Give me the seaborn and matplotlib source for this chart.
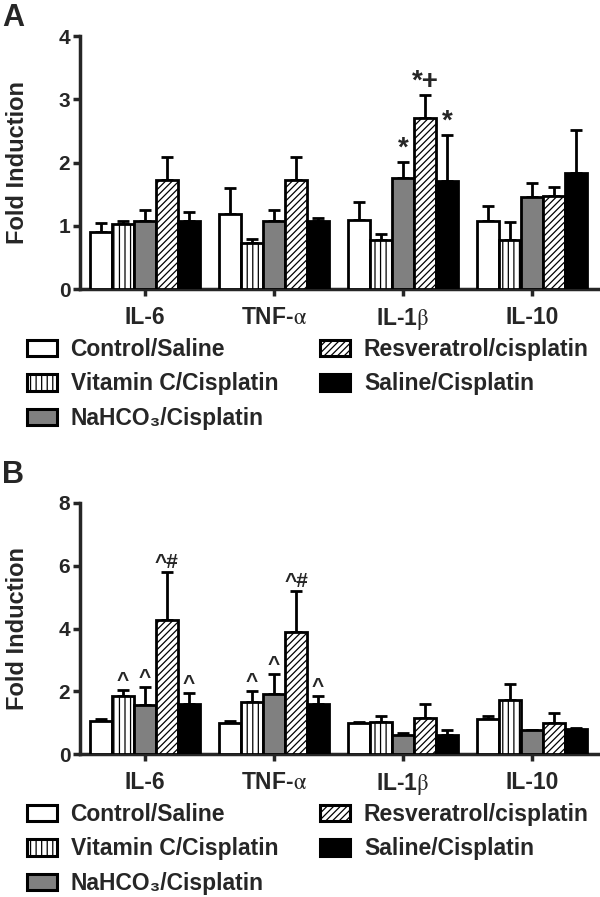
import numpy as np
import pandas as pd
import matplotlib
matplotlib.use("Agg")
import matplotlib.pyplot as plt
import seaborn as sns
from matplotlib.patches import Patch

# ── data ─────────────────────────────────────────────────────
cytokines = ["IL-6", "TNF-$\\mathrm{\\alpha}$", "IL-1$\\mathrm{\\beta}$", "IL-10"]
groups = ["Control/Saline", "Vitamin C/Cisplatin", "NaHCO\u2083/Cisplatin",
          "Resveratrol/cisplatin", "Saline/Cisplatin"]

# panel A: mean fold induction (per group, over cytokines) and SEM
a_control = [0.90, 1.18, 1.09, 1.07]
a_vitc = [1.03, 0.72, 0.78, 0.77]
a_nahco3 = [1.07, 1.07, 1.75, 1.46]
a_resv = [1.72, 1.72, 2.71, 1.47]
a_saline = [1.08, 1.08, 1.71, 1.84]

a_control_err = [0.15, 0.41, 0.29, 0.25]
a_vitc_err = [0.05, 0.07, 0.09, 0.29]
a_nahco3_err = [0.18, 0.18, 0.26, 0.21]
a_resv_err = [0.36, 0.36, 0.36, 0.14]
a_saline_err = [0.14, 0.05, 0.73, 0.67]

# panel B
b_control = [1.05, 1.00, 1.00, 1.10]
b_vitc = [1.85, 1.65, 1.02, 1.72]
b_nahco3 = [1.55, 1.90, 0.62, 0.75]
b_resv = [4.28, 3.88, 1.15, 1.00]
b_saline = [1.60, 1.58, 0.62, 0.80]

b_control_err = [0.08, 0.04, 0.03, 0.12]
b_vitc_err = [0.20, 0.37, 0.18, 0.52]
b_nahco3_err = [0.60, 0.65, 0.06, 0.02]
b_resv_err = [1.52, 1.32, 0.44, 0.30]
b_saline_err = [0.33, 0.27, 0.13, 0.03]

# significance marks: (cytokine index, group index, text)
a_marks = [(2, 2, "*"), (2, 3, "*+"), (2, 4, "*")]
b_marks = [(0, 1, "^"), (0, 2, "^"), (0, 3, "^#"), (0, 4, "^"),
           (1, 1, "^"), (1, 2, "^"), (1, 3, "^#"), (1, 4, "^")]

# ── style ────────────────────────────────────────────────────
sns.set_style("ticks")
plt.rcParams["font.family"] = ["Liberation Sans", "DejaVu Sans"]
plt.rcParams["mathtext.fontset"] = "stix"
plt.rcParams["hatch.linewidth"] = 0.9

colors = ["white", "white", "#808080", "white", "black"]
hatches = ["", "|||", "", "/////", ""]
LW = 2.0


def draw_panel(ax, means, errs, ymax, marks, mark_size):
    df = pd.DataFrame({
        "cytokine": np.tile(cytokines, len(groups)),
        "group": np.repeat(groups, len(cytokines)),
        "value": np.concatenate(means),
    })
    sns.barplot(data=df, x="cytokine", y="value", hue="group",
                order=cytokines, hue_order=groups, palette=colors,
                saturation=1, width=0.85, edgecolor="black", linewidth=LW,
                errorbar=None, legend=False, ax=ax, zorder=3)

    for cont, hatch, err in zip(ax.containers, hatches, errs):
        xs, hs = [], []
        for bar in cont:
            bar.set_hatch(hatch)
            xs.append(bar.get_x() + bar.get_width() / 2)
            hs.append(bar.get_height())
        ax.errorbar(xs, hs, yerr=[np.zeros(len(err)), err], fmt="none",
                    ecolor="black", elinewidth=2, capsize=4.5, capthick=2,
                    zorder=2)

    # significance symbols above the error bars
    for ci, gi, txt in marks:
        bar = ax.containers[gi][ci]
        top = bar.get_height() + errs[gi][ci]
        ax.annotate(txt, (bar.get_x() + bar.get_width() / 2, top),
                    xytext=(0, 0), textcoords="offset points",
                    ha="center", va="bottom", fontsize=mark_size,
                    fontweight="bold")

    ax.set_xlim(-0.504, 3.51)
    ax.set_ylim(0, ymax)
    ax.set_xlabel("")
    ax.set_ylabel("Fold Induction", fontsize=17, fontweight="bold")
    ax.yaxis.set_label_coords(-0.098, 0.5)
    sns.despine(ax=ax)
    for s in ["left", "bottom"]:
        ax.spines[s].set_linewidth(2.5)
    ax.tick_params(width=2.5, length=5, labelsize=15, pad=2)
    ax.tick_params(axis="x", pad=7)
    for lab in ax.get_xticklabels() + ax.get_yticklabels():
        lab.set_fontweight("bold")
    for lab in ax.get_xticklabels():
        lab.set_fontsize(16.5)


fig = plt.figure(figsize=(6, 8.97), dpi=100)
ax_a = fig.add_axes([80 / 600, 1 - 289 / 897, 518 / 600, 253 / 897])
ax_b = fig.add_axes([80 / 600, 1 - 754 / 897, 518 / 600, 251 / 897])

draw_panel(ax_a,
           [a_control, a_vitc, a_nahco3, a_resv, a_saline],
           [a_control_err, a_vitc_err, a_nahco3_err, a_resv_err, a_saline_err],
           4, a_marks, 20)
ax_a.set_yticks([0, 1, 2, 3, 4])

draw_panel(ax_b,
           [b_control, b_vitc, b_nahco3, b_resv, b_saline],
           [b_control_err, b_vitc_err, b_nahco3_err, b_resv_err, b_saline_err],
           8, b_marks, 15)
ax_b.set_yticks([0, 2, 4, 6, 8])

handles = [Patch(facecolor=c, edgecolor="black", hatch=h, linewidth=2.2)
           for c, h in zip(colors, hatches)]
for top in [338, 803]:
    fig.legend(handles, groups, loc="upper left",
               bbox_to_anchor=(27 / 600, 1 - top / 897), ncol=2,
               frameon=False, prop={"weight": "bold", "size": 16.5},
               handlelength=1.3, handleheight=0.75, handletextpad=0.6,
               columnspacing=1.85, labelspacing=0.5, borderpad=0,
               borderaxespad=0)

fig.text(0.003, 1 - 18 / 897, "A", fontsize=22, fontweight="bold", va="center")
fig.text(0.003, 1 - 475 / 897, "B", fontsize=22, fontweight="bold", va="center")

fig.savefig("out.png", dpi=100)
